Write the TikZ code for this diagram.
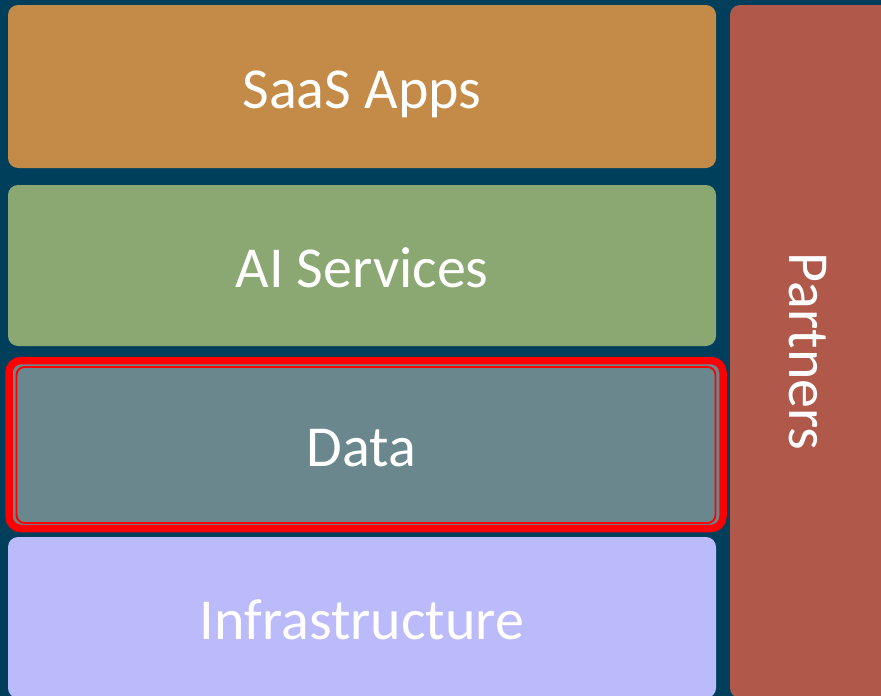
\documentclass[tikz,border=0pt]{standalone}
\usepackage{fontspec}
\setmainfont{Carlito}
\usepackage{tikz}

\definecolor{backblue}{RGB}{0,63,92}
\definecolor{saasorange}{RGB}{196,138,71}
\definecolor{aigreen}{RGB}{139,168,114}
\definecolor{datagray}{RGB}{106,135,142}
\definecolor{infraviolet}{RGB}{187,187,251}
\definecolor{partnerred}{RGB}{176,89,74}

\tikzset{
  layer/.style={rounded corners=10pt, inner sep=0pt, text=white,
    font=\fontsize{58}{60}\selectfont, text height=43pt, text depth=0pt,
    minimum width=708pt},
}

\begin{document}
\begin{tikzpicture}[x=1pt,y=-1pt]
\fill[backblue] (0,0) rectangle (881,696);
\useasboundingbox (0,0) rectangle (881,696);
\node[layer, fill=saasorange, minimum height=163pt] (saas) at (362,86.5) {SaaS Apps};
\node[layer, fill=aigreen, minimum height=161pt] (ai) at (362,265.5) {AI Services};
% red highlight round the data layer
\node[rounded corners=12pt, draw=red, line width=7.5pt, fill=datagray,
  minimum width=714pt, minimum height=168pt] (dataframe) at (366,444.5) {};
\node[layer, fill=datagray, draw=red, line width=1.8pt, minimum width=699pt,
  minimum height=156pt, rounded corners=8pt] (data) at (366,445) {\hspace*{-9pt}Data};
\node[layer, fill=infraviolet, minimum height=161pt] (infra) at (362,617.5) {Infrastructure};
\node[layer, fill=partnerred, rotate=-90, minimum width=693pt,
  minimum height=162pt] (partners) at (811,351.5) {Partners};
\end{tikzpicture}
\end{document}
